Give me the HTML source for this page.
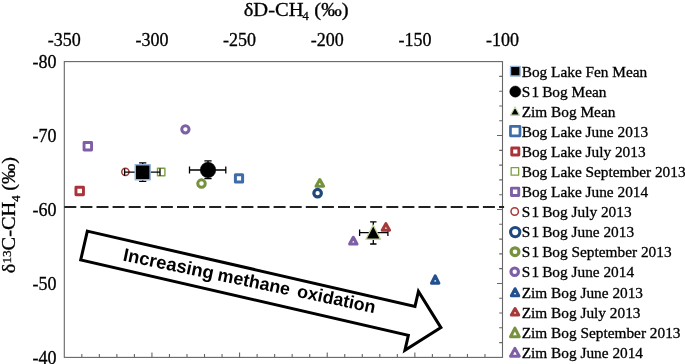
<!DOCTYPE html>
<html><head><meta charset="utf-8"><title>Methane isotopes chart</title>
<style>html,body{margin:0;padding:0;background:#fff}svg{display:block}</style></head>
<body>
<svg width="685" height="364" viewBox="0 0 685 364">
<rect width="685" height="364" fill="#fff"/>
<rect x="64.3" y="61.6" width="438.20" height="295.80" fill="none" stroke="#666" stroke-width="1.1"/>
<path d="M81.83 357.4v-3.3M99.36 357.4v-3.3M116.88 357.4v-3.3M134.41 357.4v-3.3M151.94 357.4v-5M169.47 357.4v-3.3M187.00 357.4v-3.3M204.52 357.4v-3.3M222.05 357.4v-3.3M239.58 357.4v-5M257.11 357.4v-3.3M274.64 357.4v-3.3M292.16 357.4v-3.3M309.69 357.4v-3.3M327.22 357.4v-5M344.75 357.4v-3.3M362.28 357.4v-3.3M379.80 357.4v-3.3M397.33 357.4v-3.3M414.86 357.4v-5M432.39 357.4v-3.3M449.92 357.4v-3.3M467.44 357.4v-3.3M484.97 357.4v-3.3M502.5 76.39h-3.3M502.5 91.18h-3.3M502.5 105.97h-3.3M502.5 120.76h-3.3M502.5 135.55h-5.5M502.5 150.34h-3.3M502.5 165.13h-3.3M502.5 179.92h-3.3M502.5 194.71h-3.3M502.5 209.50h-5.5M502.5 224.29h-3.3M502.5 239.08h-3.3M502.5 253.87h-3.3M502.5 268.66h-3.3M502.5 283.45h-5.5M502.5 298.24h-3.3M502.5 313.03h-3.3M502.5 327.82h-3.3M502.5 342.61h-3.3" stroke="#666" stroke-width="1.1" fill="none"/>
<path d="M64.3 206.9H504.1" stroke="#222" stroke-width="2" stroke-dasharray="12 4.1" fill="none"/>
<g font-family="'Liberation Serif', serif" fill="#000" stroke="#000" stroke-width="0.3">
<text transform="translate(243.7 15.5) scale(1.11 1)" font-size="18.5">δD-CH</text>
<text x="302.6" y="19.6" font-size="12.5">4</text>
<text transform="translate(314.3 15.5) scale(1.11 1)" font-size="18.5">(‰)</text>
<text x="64.3" y="45.6" font-size="18" text-anchor="middle">-350</text>
<text x="151.9" y="45.6" font-size="18" text-anchor="middle">-300</text>
<text x="239.6" y="45.6" font-size="18" text-anchor="middle">-250</text>
<text x="327.2" y="45.6" font-size="18" text-anchor="middle">-200</text>
<text x="414.9" y="45.6" font-size="18" text-anchor="middle">-150</text>
<text x="502.5" y="45.6" font-size="18" text-anchor="middle">-100</text>
<text x="56.6" y="67.8" font-size="18" text-anchor="end">-80</text>
<text x="56.6" y="141.7" font-size="18" text-anchor="end">-70</text>
<text x="56.6" y="215.7" font-size="18" text-anchor="end">-60</text>
<text x="56.6" y="289.6" font-size="18" text-anchor="end">-50</text>
<text x="56.6" y="363.6" font-size="18" text-anchor="end">-40</text>
<text transform="translate(15.4 273.2) rotate(-90) scale(1.10 1)" font-size="18.5">δ<tspan font-size="12" dy="-4">13</tspan><tspan dy="4">C-CH</tspan><tspan font-size="11.5" dy="4.5">4</tspan><tspan dy="-4.5" dx="-0.4"> (‰)</tspan></text>
</g>
<rect x="84.05" y="142.45" width="7.50" height="7.50" fill="#fff" stroke="#7E5FA6" stroke-width="2.9" stroke-linejoin="round"/>
<rect x="75.95" y="187.25" width="7.50" height="7.50" fill="#fff" stroke="#A8343A" stroke-width="2.9" stroke-linejoin="round"/>
<circle cx="125.40" cy="171.80" r="3.65" fill="#fff" stroke="#A83A3A" stroke-width="1.5"/>
<rect x="157.50" y="168.30" width="7.40" height="7.40" fill="#fff" stroke="#7E9F40" stroke-width="1.4" stroke-linejoin="round"/>
<path d="M124.6 172.2H160M124.6 168.6v7.2M160 168.6v7.2M142.7 162.8V181.4M139.1 162.8h7.2M139.1 181.4h7.2" stroke="#000" stroke-width="1.3" fill="none"/>
<rect x="135.25" y="164.75" width="14.90" height="14.90" fill="#000" stroke="#95B3D7" stroke-width="1.5" stroke-linejoin="round"/>
<circle cx="185.40" cy="129.30" r="3.65" fill="#fff" stroke="#7E5FA6" stroke-width="3"/>
<circle cx="201.50" cy="183.60" r="3.75" fill="#fff" stroke="#76923C" stroke-width="3"/>
<path d="M189.5 170H225.8M189.5 166.4v7.2M225.8 166.4v7.2M208 160.8V178.7M204.4 160.8h7.2M204.4 178.7h7.2" stroke="#000" stroke-width="1.3" fill="none"/>
<circle cx="208.00" cy="170.00" r="7.75" fill="#000" stroke="#000" stroke-width="0.5"/>
<rect x="235.40" y="174.80" width="7.20" height="7.20" fill="#fff" stroke="#3D6CAB" stroke-width="3" stroke-linejoin="round"/>
<path d="M319.80 179.55L323.55 186.25H316.05Z" fill="#fff" stroke="#76923C" stroke-width="3.1" stroke-linejoin="round"/>
<circle cx="317.60" cy="193.20" r="3.75" fill="#fff" stroke="#1F497D" stroke-width="3.2"/>
<path d="M353.30 237.35L356.95 244.05H349.65Z" fill="#fff" stroke="#7E5FA6" stroke-width="3.1" stroke-linejoin="round"/>
<path d="M359.6 232.7H387.9M359.6 229.5v6.4M387.9 229.5v6.4M373.3 221.8V244.0M370.1 221.8h6.4M370.1 244.0h6.4" stroke="#000" stroke-width="1.3" fill="none"/>
<path d="M373.20 225.15L380.45 239.25H365.95Z" fill="#000" stroke="#C3D69B" stroke-width="1.3" stroke-linejoin="round"/>
<path d="M385.90 223.65L389.55 230.25H382.25Z" fill="#fff" stroke="#A63A3A" stroke-width="3.1" stroke-linejoin="round"/>
<path d="M435.20 275.95L438.85 283.15H431.55Z" fill="#fff" stroke="#23508E" stroke-width="3.1" stroke-linejoin="round"/>
<g transform="translate(262.47 286.56) rotate(12.95)">
<path d="M-183.1 -14.8L153.1 -14.8L153.1 -30.2L183.1 0.0L153.1 30.2L153.1 14.8L-183.1 14.8Z" fill="#fff" stroke="#000" stroke-width="3" stroke-linejoin="miter"/>
<text transform="rotate(-1.15 -142.4 6)" y="6" font-family="'Liberation Sans', Arial, sans-serif" font-weight="bold" font-size="18.4"><tspan x="-142.4">Increasing</tspan> <tspan x="-45.9" font-size="17.9">methane</tspan> <tspan x="35.3" font-size="17.95">oxidation</tspan></text>
</g>
<g font-family="'Liberation Serif', serif" font-size="15.33" fill="#000" stroke="#000" stroke-width="0.3">
<text x="521.7" y="76.60">Bog Lake Fen Mean</text>
<text x="521.7" y="96.69">S<tspan dx="1.3">1</tspan><tspan dx="-0.9"> </tspan>Bog Mean</text>
<text x="521.7" y="116.77">Zim Bog Mean</text>
<text x="521.7" y="136.85">Bog Lake June 2013</text>
<text x="521.7" y="156.94">Bog Lake July 2013</text>
<text x="521.7" y="177.03">Bog Lake September 2013</text>
<text x="521.7" y="197.11">Bog Lake June 2014</text>
<text x="521.7" y="217.19">S<tspan dx="1.3">1</tspan><tspan dx="-0.9"> </tspan>Bog July 2013</text>
<text x="521.7" y="237.28">S<tspan dx="1.3">1</tspan><tspan dx="-0.9"> </tspan>Bog June 2013</text>
<text x="521.7" y="257.37">S<tspan dx="1.3">1</tspan><tspan dx="-0.9"> </tspan>Bog September 2013</text>
<text x="521.7" y="277.45">S<tspan dx="1.3">1</tspan><tspan dx="-0.9"> </tspan>Bog June 2014</text>
<text x="521.7" y="297.53">Zim Bog June 2013</text>
<text x="521.7" y="317.62">Zim Bog July 2013</text>
<text x="521.7" y="337.71">Zim Bog September 2013</text>
<text x="521.7" y="357.79">Zim Bog June 2014</text>
</g>
<rect x="510.50" y="66.40" width="9.60" height="9.60" fill="#000" stroke="#95B3D7" stroke-width="1.4" stroke-linejoin="round"/>
<circle cx="515.30" cy="91.58" r="5.55" fill="#000" stroke="#000" stroke-width="0.5"/>
<path d="M515.05 107.00L519.60 115.20H510.50Z" fill="#000" stroke="#C5D8A8" stroke-width="1.2" stroke-linejoin="round"/>
<rect x="510.45" y="126.35" width="9.50" height="9.50" fill="#fff" stroke="#3D6CAB" stroke-width="2.7" stroke-linejoin="round"/>
<rect x="511.75" y="147.95" width="7.10" height="7.10" fill="#fff" stroke="#A8343A" stroke-width="2.9" stroke-linejoin="round"/>
<rect x="511.15" y="167.65" width="7.50" height="7.50" fill="#fff" stroke="#7E9F40" stroke-width="1.3" stroke-linejoin="round"/>
<rect x="511.45" y="188.15" width="7.30" height="7.30" fill="#fff" stroke="#7E5FA6" stroke-width="2.9" stroke-linejoin="round"/>
<circle cx="514.70" cy="211.50" r="3.70" fill="#fff" stroke="#A83A3A" stroke-width="1.5"/>
<circle cx="515.20" cy="232.10" r="4.65" fill="#fff" stroke="#1F497D" stroke-width="3.1"/>
<circle cx="515.00" cy="251.70" r="3.90" fill="#fff" stroke="#76923C" stroke-width="3.2"/>
<circle cx="514.70" cy="271.70" r="3.75" fill="#fff" stroke="#7E5FA6" stroke-width="3.1"/>
<path d="M515.05 288.70L518.75 295.80H511.35Z" fill="#fff" stroke="#23508E" stroke-width="3.0" stroke-linejoin="round"/>
<path d="M515.05 308.60L518.75 315.00H511.35Z" fill="#fff" stroke="#A63A3A" stroke-width="3.0" stroke-linejoin="round"/>
<path d="M514.90 328.10L519.25 336.70H510.55Z" fill="#fff" stroke="#76923C" stroke-width="3.0" stroke-linejoin="round"/>
<path d="M514.90 348.40L519.25 356.30H510.55Z" fill="#fff" stroke="#7E5FA6" stroke-width="3.0" stroke-linejoin="round"/>
</svg>
</body></html>
